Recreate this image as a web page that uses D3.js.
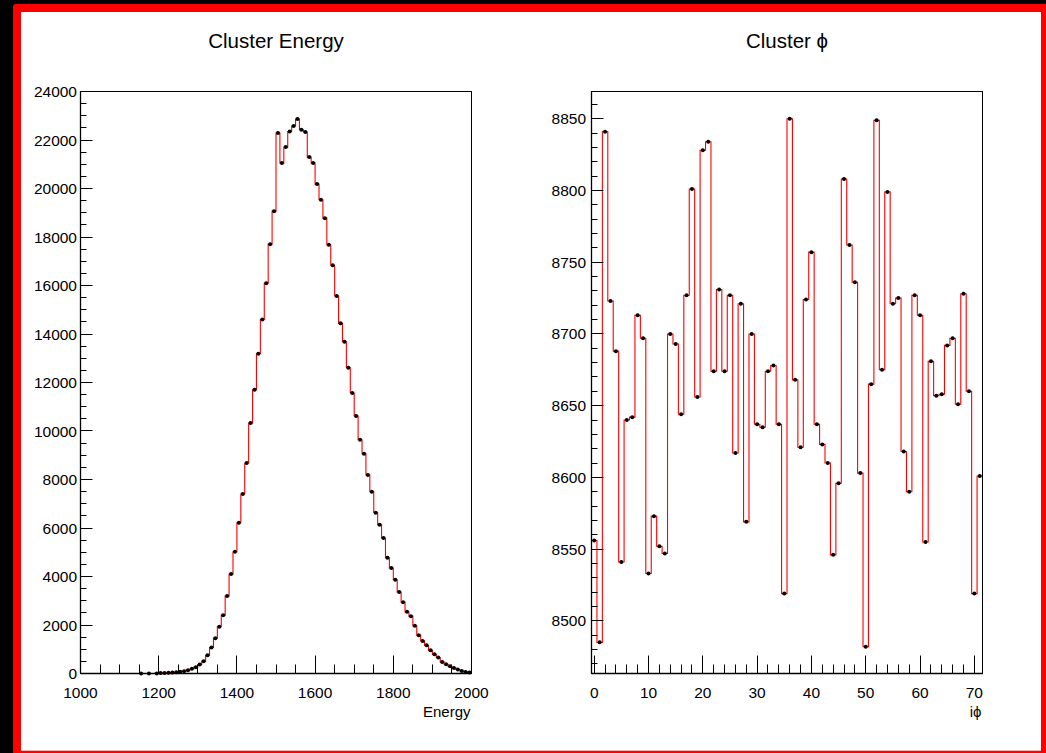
<!DOCTYPE html>
<html>
<head>
<meta charset="utf-8">
<script src="https://cdn.jsdelivr.net/npm/d3@7"></script>
<style>
  body { margin: 0; background: #000; }
  svg { display: block; }
  text { font-family: "Liberation Sans", Arial, Helvetica, sans-serif; fill: #000; }
</style>
</head>
<body>
<div id="chart"></div>
<script>
// Cluster energy: 100 bins of width 10 from 1000 to 2000
const energyLow = 1000;
const energyHigh = 2000;
const energyCounts = [
    0, 0, 0, 0, 0, 0, 0, 0, 0, 0,
    0, 0, 0, 0, 0, 3, 0, 2, 0, 4,
    20, 25, 32, 42, 55, 75, 96, 138, 193, 261,
    371, 509, 756, 1073, 1458, 1926, 2407, 3191, 4100, 5019,
    6216, 7400, 8679, 10330, 11704, 13190, 14593, 16095, 17705, 19067,
    22286, 21048, 21708, 22352, 22575, 22864, 22422, 22327, 21295, 21048,
    20181, 19534, 18778, 17676, 16838, 15571, 14445, 13685, 12612, 11568,
    10619, 9641, 9063, 8184, 7495, 6628, 6133, 5584, 4771, 4346,
    3863, 3356, 2943, 2542, 2365, 1965, 1581, 1345, 1168, 962,
    797, 660, 479, 384, 301, 231, 165, 107, 66, 41
];
const energyXTicks = [1000, 1200, 1400, 1600, 1800, 2000];
const energyYTicks = [0, 2000, 4000, 6000, 8000, 10000, 12000, 14000, 16000, 18000, 20000, 22000, 24000];

// Cluster phi: 72 bins, centred on 0..71
const phiLow = -0.5;
const phiHigh = 71.5;
const phiCounts = [
    8556, 8485, 8841, 8723, 8688, 8541, 8640, 8642, 8713, 8697,
    8533, 8573, 8552, 8547, 8700, 8693, 8644, 8727, 8801, 8656,
    8828, 8834, 8674, 8731, 8674, 8727, 8617, 8721, 8569, 8700,
    8637, 8635, 8674, 8678, 8637, 8519, 8850, 8668, 8621, 8724,
    8757, 8637, 8623, 8610, 8546, 8596, 8808, 8762, 8736, 8603,
    8482, 8665, 8849, 8675, 8799, 8721, 8725, 8618, 8590, 8727,
    8713, 8555, 8681, 8657, 8658, 8692, 8697, 8651, 8728, 8660,
    8519, 8601
];
const phiXTicks = [0, 10, 20, 30, 40, 50, 60, 70];
const phiYTicks = [8500, 8550, 8600, 8650, 8700, 8750, 8800, 8850];

const W = 1046, H = 753;

const svg = d3.select("#chart")
    .append("svg")
    .attr("width", W)
    .attr("height", H);

// canvas frame: black strip, red border, white pad
svg.append("rect").attr("x", 13).attr("y", 4).attr("width", 1045).attr("height", 760)
    .attr("rx", 3).attr("fill", "#ff0000");
svg.append("rect").attr("x", 21).attr("y", 12).attr("width", 1020).attr("height", 738.7)
    .attr("fill", "#fff");

function drawHist(opt) {
    const g = svg.append("g");
    const x = d3.scaleLinear().domain(opt.xDomain).range([opt.left, opt.right]);
    const y = d3.scaleLinear().domain(opt.yDomain).range([opt.bottom, opt.top]);
    const n = opt.counts.length;
    const bw = (opt.xDomain[1] - opt.xDomain[0]) / n;

    // step outline
    const steps = opt.counts.map((c, i) => ({x: opt.xDomain[0] + i * bw, y: c}));
    steps.push({x: opt.xDomain[1], y: opt.counts[n - 1]});
    const line = d3.line()
        .x(d => x(d.x))
        .y(d => y(Math.max(d.y, opt.yDomain[0])))
        .curve(d3.curveStepAfter);
    g.append("path")
        .datum(steps)
        .attr("d", line)
        .attr("fill", "none")
        .attr("stroke", "#ff0000")
        .attr("stroke-width", 1.1);

    // markers at bin centres (empty bins skipped)
    g.append("g")
        .selectAll("circle")
        .data(opt.counts.map((c, i) => ({x: opt.xDomain[0] + (i + 0.5) * bw, y: c})).filter(d => d.y > 0))
        .join("circle")
        .attr("cx", d => x(d.x))
        .attr("cy", d => y(d.y))
        .attr("r", 2)
        .attr("fill", "#000");

    // frame
    g.append("rect")
        .attr("x", opt.left).attr("y", opt.top)
        .attr("width", opt.right - opt.left).attr("height", opt.bottom - opt.top)
        .attr("fill", "none").attr("stroke", "#000").attr("stroke-width", 1);

    // x ticks (pointing inwards)
    const xMinor = d3.range(opt.xTicks[0], opt.xDomain[1] + 1e-9, opt.xMinorStep)
        .filter(v => v >= opt.xDomain[0] && v <= opt.xDomain[1]);
    g.append("g").selectAll("line").data(xMinor).join("line")
        .attr("x1", d => Math.floor(x(d)) + 0.5).attr("x2", d => Math.floor(x(d)) + 0.5)
        .attr("y1", opt.bottom)
        .attr("y2", d => opt.xTicks.some(t => Math.abs(t - d) < 1e-6) ? opt.bottom - 18 : opt.bottom - 9)
        .attr("stroke", "#000").attr("stroke-width", 1);
    g.append("g").selectAll("text").data(opt.xTicks).join("text")
        .attr("x", d => x(d))
        .attr("y", 698)
        .attr("text-anchor", "middle")
        .style("font-size", "15.5px")
        .text(d => d);

    // y ticks
    const yMinor = d3.range(opt.yMinorStart, opt.yDomain[1] + 1e-9, opt.yMinorStep)
        .filter(v => v >= opt.yDomain[0] && v <= opt.yDomain[1]);
    g.append("g").selectAll("line").data(yMinor).join("line")
        .attr("y1", d => Math.floor(y(d)) + 0.5).attr("y2", d => Math.floor(y(d)) + 0.5)
        .attr("x1", opt.left)
        .attr("x2", d => opt.yTicks.some(t => Math.abs(t - d) < 1e-6) ? opt.left + 12 : opt.left + 6)
        .attr("stroke", "#000").attr("stroke-width", 1);
    g.append("g").selectAll("text").data(opt.yTicks).join("text")
        .attr("x", opt.labelX)
        .attr("y", d => y(d) + 5.5)
        .attr("text-anchor", "end")
        .style("font-size", "15.5px")
        .text(d => d);

    // axis lines on top
    g.append("line").attr("x1", opt.left).attr("x2", opt.right)
        .attr("y1", opt.bottom).attr("y2", opt.bottom)
        .attr("stroke", "#000").attr("stroke-width", 1.3);
    g.append("line").attr("x1", opt.left).attr("x2", opt.left)
        .attr("y1", opt.top).attr("y2", opt.bottom)
        .attr("stroke", "#000").attr("stroke-width", 1.3);

    // titles
    g.append("text")
        .attr("x", (opt.left + opt.right) / 2)
        .attr("y", 48)
        .attr("text-anchor", "middle")
        .style("font-size", "20.5px")
        .text(opt.title);
    g.append("text")
        .attr("x", opt.right - 1)
        .attr("y", 717)
        .attr("text-anchor", "end")
        .style("font-size", "15px")
        .text(opt.xTitle);
}

drawHist({
    counts: energyCounts,
    xDomain: [energyLow, energyHigh],
    yDomain: [0, 24000],
    left: 80.5, right: 471.5, top: 91.5, bottom: 673.5,
    xTicks: energyXTicks, xMinorStep: 50,
    yTicks: energyYTicks, yMinorStart: 0, yMinorStep: 500,
    labelX: 77,
    title: "Cluster Energy",
    xTitle: "Energy"
});

drawHist({
    counts: phiCounts,
    xDomain: [phiLow, phiHigh],
    yDomain: [8463.3, 8869],
    left: 591.5, right: 982.5, top: 91.5, bottom: 673.5,
    xTicks: phiXTicks, xMinorStep: 2,
    yTicks: phiYTicks, yMinorStart: 8470, yMinorStep: 10,
    labelX: 586,
    title: "Cluster \u03D5",
    xTitle: "i\u03D5"
});
</script>
</body>
</html>
